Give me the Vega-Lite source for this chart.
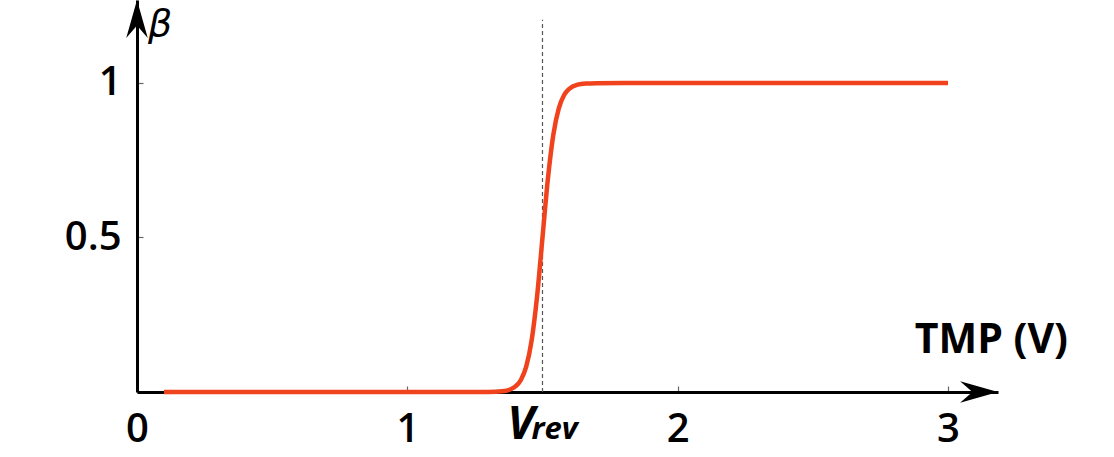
{
  "$schema": "https://vega.github.io/schema/vega-lite/v6.json",
  "width": 861,
  "height": 392,
  "autosize": {"type": "none"},
  "padding": {"left": 137, "top": 0, "right": 116, "bottom": 65},
  "background": "white",
  "config": {"view": {"stroke": null}},
  "datasets": {
    "beta": [
      {"tmp": 0.1, "beta": 0},
      {"tmp": 0.5, "beta": 0},
      {"tmp": 1.0, "beta": 0},
      {"tmp": 1.2, "beta": 0},
      {"tmp": 1.3, "beta": 0.0003},
      {"tmp": 1.35, "beta": 0.0025},
      {"tmp": 1.38, "beta": 0.008},
      {"tmp": 1.4, "beta": 0.018},
      {"tmp": 1.42, "beta": 0.039},
      {"tmp": 1.44, "beta": 0.083},
      {"tmp": 1.46, "beta": 0.168},
      {"tmp": 1.48, "beta": 0.31},
      {"tmp": 1.5, "beta": 0.5},
      {"tmp": 1.52, "beta": 0.69},
      {"tmp": 1.54, "beta": 0.832},
      {"tmp": 1.56, "beta": 0.917},
      {"tmp": 1.58, "beta": 0.961},
      {"tmp": 1.6, "beta": 0.982},
      {"tmp": 1.63, "beta": 0.9945},
      {"tmp": 1.66, "beta": 0.9983},
      {"tmp": 1.7, "beta": 0.9995},
      {"tmp": 1.8, "beta": 1},
      {"tmp": 2.0, "beta": 1},
      {"tmp": 2.5, "beta": 1},
      {"tmp": 3.0, "beta": 1}
    ],
    "vrev": [{"tmp": 1.5, "lo": 0, "hi": 1.205}],
    "one": [{}]
  },
  "layer": [
    {
      "data": {"name": "vrev"},
      "mark": {"type": "rule", "color": "#555555", "strokeWidth": 1.2, "strokeDash": [4, 3]},
      "encoding": {
        "x": {"field": "tmp", "type": "quantitative", "scale": {"domain": [0, 3.185], "nice": false, "zero": false}},
        "y": {"field": "lo", "type": "quantitative", "scale": {"domain": [0, 1.2686], "nice": false, "zero": false}},
        "y2": {"field": "hi"}
      }
    },
    {
      "data": {"name": "beta"},
      "mark": {"type": "line", "color": "#F0421C", "strokeWidth": 4.5, "interpolate": "monotone", "strokeCap": "butt"},
      "encoding": {
        "x": {
          "field": "tmp", "type": "quantitative",
          "axis": {
            "values": [0, 1, 2, 3], "format": "~g", "title": null, "grid": false,
            "domainColor": "black", "domainWidth": 3,
            "tickColor": "#666666", "tickWidth": 1.2, "tickSize": -6,
            "labelFont": "Open Sans", "labelFontWeight": 600, "labelFontSize": 40,
            "labelColor": "black", "labelPadding": 23, "labelFlush": false
          }
        },
        "y": {
          "field": "beta", "type": "quantitative",
          "axis": {
            "values": [0.5, 1], "format": "~g", "title": null, "grid": false,
            "domainColor": "black", "domainWidth": 3,
            "tickColor": "#666666", "tickWidth": 1.2, "tickSize": -6,
            "labelFont": "Open Sans", "labelFontWeight": 600, "labelFontSize": 40,
            "labelColor": "black", "labelPadding": 22, "labelFlush": false
          }
        }
      }
    },
    {
      "data": {"name": "one"},
      "mark": {"type": "point", "shape": "M0,0 L-3.7,-1.05 L-2.5,0 L-3.7,1.05 Z", "filled": true, "color": "black", "opacity": 1, "size": 420, "strokeWidth": 0},
      "encoding": {"x": {"datum": 3.185}, "y": {"datum": 0}}
    },
    {
      "data": {"name": "one"},
      "mark": {"type": "point", "shape": "M0,0 L-1.05,3.7 L0,2.5 L1.05,3.7 Z", "filled": true, "color": "black", "opacity": 1, "size": 420, "strokeWidth": 0},
      "encoding": {"x": {"datum": 0}, "y": {"datum": 1.2686}}
    },
    {
      "data": {"name": "one"},
      "mark": {"type": "text", "text": "TMP (V)", "font": "Open Sans", "fontWeight": "bold", "fontSize": 41, "align": "right", "baseline": "alphabetic", "dx": 70, "dy": -39, "color": "black"},
      "encoding": {"x": {"datum": 3.185}, "y": {"datum": 0}}
    },
    {
      "data": {"name": "one"},
      "mark": {"type": "text", "text": "β", "font": "DejaVu Sans", "fontStyle": "italic", "fontSize": 38, "align": "left", "baseline": "alphabetic", "dx": 11, "dy": 36, "color": "black"},
      "encoding": {"x": {"datum": 0}, "y": {"datum": 1.2686}}
    },
    {
      "data": {"name": "one"},
      "mark": {"type": "text", "text": "V", "font": "Open Sans", "fontWeight": "bold", "fontStyle": "italic", "fontSize": 46, "align": "right", "baseline": "alphabetic", "dx": -8, "dy": 47, "color": "black"},
      "encoding": {"x": {"datum": 1.5}, "y": {"datum": 0}}
    },
    {
      "data": {"name": "one"},
      "mark": {"type": "text", "text": "rev", "font": "Open Sans", "fontWeight": "bold", "fontStyle": "italic", "fontSize": 31, "align": "left", "baseline": "alphabetic", "dx": -11, "dy": 47, "color": "black"},
      "encoding": {"x": {"datum": 1.5}, "y": {"datum": 0}}
    }
  ]
}
